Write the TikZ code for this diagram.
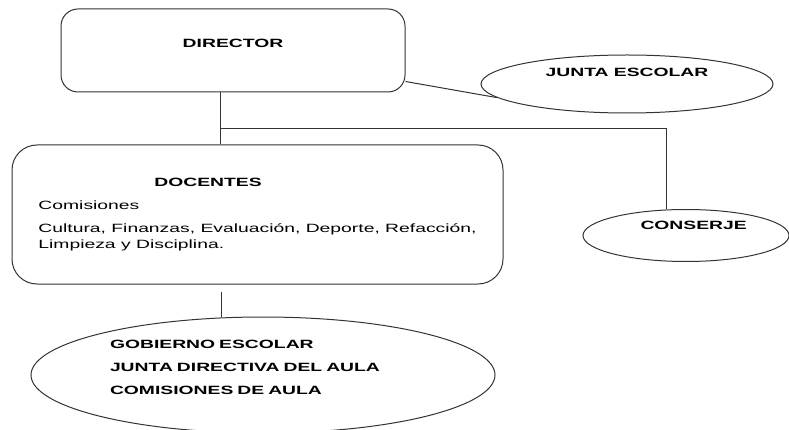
\documentclass[tikz,border=0pt]{standalone}
\usepackage{fontspec}
\setmainfont{Liberation Sans}[FakeStretch=1.61]
\usetikzlibrary{shapes.geometric,positioning}

\begin{document}
\begin{tikzpicture}[x=1pt,y=-1pt,
  every node/.style={font=\fontsize{12}{16}\selectfont, text=black},
  caja/.style={rectangle, draw=black!80, line width=1pt},
  ovalo/.style={ellipse, draw=black!80, line width=1pt, inner sep=0pt},
  linea/.style={draw=black!80, line width=1pt}]

\useasboundingbox (0,0) rectangle (789,430);

\node[caja,rounded corners=17pt,minimum width=344pt,minimum height=83pt,text depth=13.6pt]    (director) at (233,50.5)   {\textbf{DIRECTOR}};
\node[ovalo,minimum width=292pt,minimum height=58pt,text depth=22.6pt]    (junta)    at (627,84)     {\textbf{JUNTA ESCOLAR}};
\node[caja,rounded corners=25pt,minimum width=491pt,minimum height=139pt,align=left]    (docentes) at (257.5,214.5)
  {\hspace*{116pt}\textbf{DOCENTES}\\[7pt]Comisiones\\[7pt]Cultura, Finanzas, Evaluación, Deporte, Refacción,\\Limpieza y Disciplina.};
\node[ovalo,minimum width=206pt,minimum height=52pt,text width=91pt,align=right,text depth=19.6pt]    (conserje) at (686,235.5)  {\textbf{CONSERJE}};
\node[ovalo,minimum width=464pt,minimum height=116pt,text width=306pt,align=left,text depth=62pt,font=\fontsize{12}{16}\selectfont\bfseries]    (gobierno) at (263,375)
  {GOBIERNO ESCOLAR\\[7pt]JUNTA DIRECTIVA DEL AULA\\[7pt]COMISIONES DE AULA};

\coordinate (tronco) at (220,129);
\coordinate (rama)   at (666,129);
\coordinate (tallo)  at (221,292);

\draw[linea] (director.south -| tronco) -- (docentes.north -| tronco);
\draw[linea] (tronco) -- (rama) -- (rama |- conserje.north);
\draw[linea] ([yshift=11pt]director.south east) -- (junta.186);
\draw[linea] (tallo) -- (tallo |- gobierno.north);

\end{tikzpicture}
\end{document}
